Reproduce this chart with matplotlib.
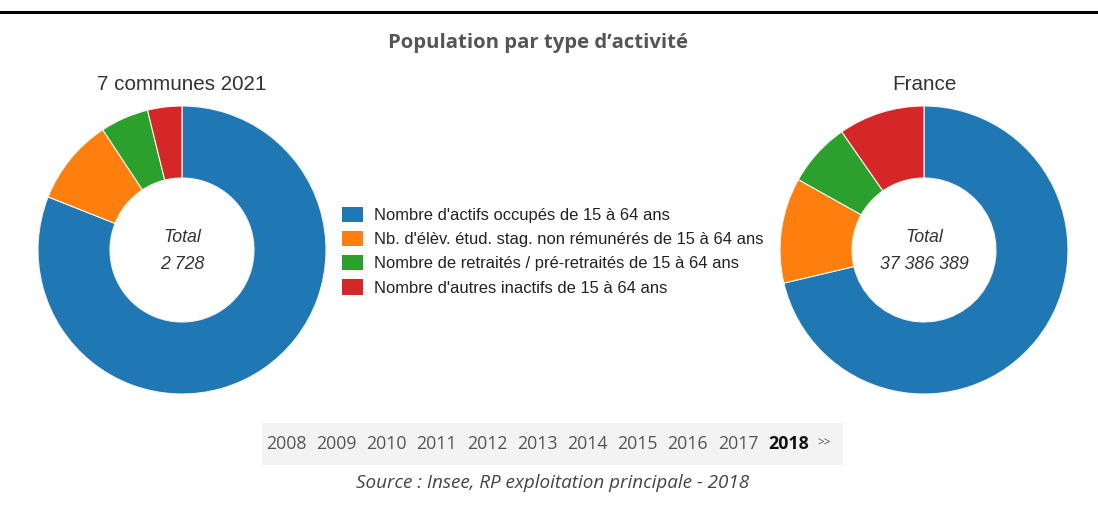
import matplotlib
matplotlib.use("Agg")
import matplotlib.pyplot as plt
from matplotlib.patches import Rectangle, Patch
from matplotlib.lines import Line2D

# ---- data ----
title = "Population par type d’activité"
categories = [
    "Nombre d'actifs occupés de 15 à 64 ans",
    "Nb. d'élèv. étud. stag. non rémunérés de 15 à 64 ans",
    "Nombre de retraités / pré-retraités de 15 à 64 ans",
    "Nombre d'autres inactifs de 15 à 64 ans",
]
colors = ["#1f77b4", "#ff7f0e", "#2ca02c", "#d62728"]
left_name = "7 communes 2021"
left_values = [2210, 265, 148, 105]
left_total = "2 728"
right_name = "France"
right_values = [26660000, 4420000, 2690000, 3616389]
right_total = "37 386 389"
years = ["2008", "2009", "2010", "2011", "2012", "2013", "2014", "2015", "2016", "2017"]
current_year = "2018"
source = "Source : Insee, RP exploitation principale - 2018"

W, H = 1098, 516
fig = plt.figure(figsize=(W / 100, H / 100), dpi=100)
fig.patch.set_facecolor("white")

def fx(px):
    return px / W

def fy(py):
    return 1 - py / H

# top rule
fig.add_artist(Line2D([0, 1], [fy(12), fy(12)], color="black", lw=2.2, transform=fig.transFigure))

fig.text(fx(538), fy(43), title, ha="center", va="center", fontsize=14.6,
         fontweight="bold", color="#555555", family="Open Sans")

def donut(cx, cy, r, values, name, total):
    ax = fig.add_axes([fx(cx - r), fy(cy + r), 2 * r / W, 2 * r / H])
    wedges, _ = ax.pie(values, colors=colors, startangle=90, counterclock=False,
                       radius=1, wedgeprops=dict(width=0.5, edgecolor="#f4f4ee", linewidth=0.8))
    ax.set_xlim(-1, 1)
    ax.set_ylim(-1, 1)
    ax.set_aspect("equal")
    ax.axis("off")
    ax.text(0, 0.09, "Total", ha="center", va="center", fontsize=12.8, style="italic",
            color="#333333", family="Liberation Sans")
    ax.text(0, -0.1, total, ha="center", va="center", fontsize=12.8, style="italic",
            color="#333333", family="Liberation Sans")
    fig.text(fx(cx), fy(84), name, ha="center", va="center", fontsize=14.9,
             color="#333333", family="Liberation Sans")
    return wedges

donut(182, 250, 144, left_values, left_name, left_total)
donut(924, 250, 144, right_values, right_name, right_total)

handles = [Patch(facecolor=c, edgecolor="none") for c in colors]
fig.legend(handles, categories, loc="upper left", bbox_to_anchor=(fx(342), fy(207)),
           frameon=False, handlelength=1.3, handleheight=1.05,
           handletextpad=0.62, labelspacing=0.47, borderaxespad=0, borderpad=0,
           prop=dict(family="Liberation Sans", size=11.9), labelcolor="#222222")

# year selector
fig.add_artist(Rectangle((fx(262), fy(465)), fx(843) - fx(262), fy(423) - fy(465),
                         facecolor="#f3f3f3", edgecolor="none", transform=fig.transFigure))
for i, y in enumerate(years):
    fig.text(fx(266 + i * 50.2), fy(444), y, ha="left", va="center", fontsize=12.8,
             color="#555555", family="Open Sans")
fig.text(fx(768), fy(444), current_year, ha="left", va="center", fontsize=12.8,
         fontweight="bold", color="#111111", family="Open Sans")
fig.text(fx(817), fy(443), ">>", ha="left", va="center", fontsize=8.5,
         color="#555555", family="Open Sans")

fig.text(fx(553), fy(483), source, ha="center", va="center", fontsize=13.6,
         style="italic", color="#444444", family="Open Sans")

fig.savefig("out.png", dpi=100, facecolor="white")
